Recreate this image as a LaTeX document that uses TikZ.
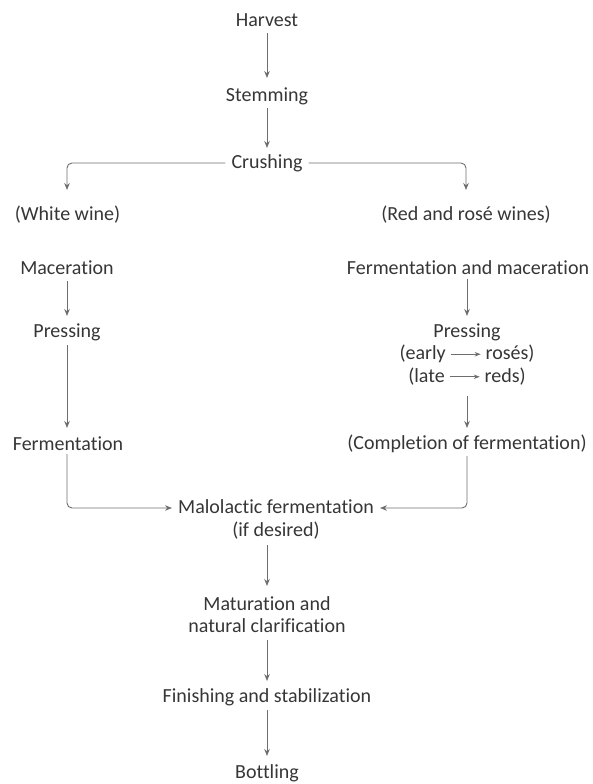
\documentclass[tikz,border=0pt]{standalone}
\usepackage{fontspec}
\setmainfont{Carlito}[Ligatures=NoCommon]
\usetikzlibrary{arrows.meta}
\definecolor{txt}{HTML}{363636}
\definecolor{ln}{HTML}{6E6E6E}
\newcommand{\inarrow}{\tikz[baseline=-0.6ex]\draw[ln,line width=0.8pt,-{Stealth[length=6pt,width=4.5pt]}] (0,0)--(30pt,0);}
\begin{document}
\begin{tikzpicture}[x=1pt,y=-1pt,
  lbl/.style={text=txt,font=\fontsize{20}{22.5}\selectfont,inner sep=1pt,align=center},
  conn/.style={draw=ln,line width=0.9pt,-{Stealth[length=7pt,width=5.5pt]},rounded corners=5pt}]
\useasboundingbox (0,0) rectangle (593,784);
\node[lbl] (harvest) at (267,20) {Harvest};
\node[lbl] (stem) at (267,96) {Stemming};
\node[lbl] (crush) at (267,163) {Crushing};
\node[lbl] (white) at (67.5,215) {(White wine)};
\node[lbl] (red) at (466,215) {(Red and rosé wines)};
\node[lbl] (macL) at (67,268) {Maceration};
\node[lbl] (fmR) at (468,268) {Fermentation and maceration};
\node[lbl] (pressL) at (67,332) {Pressing};
\node[lbl] (pressR) at (467,354.5) {Pressing\\(early \inarrow\ rosés)\\(late \inarrow\ reds)};
\node[lbl] (fermL) at (68,444) {Fermentation};
\node[lbl] (compR) at (467,444) {(Completion of fermentation)};
\node[lbl] (malo) at (276,519.5) {Malolactic fermentation\\(if desired)};
\node[lbl] (mat) at (267,614.5) {Maturation and\\natural clarification};
\node[lbl] (fin) at (267,697) {Finishing and stabilization};
\node[lbl] (bot) at (267,773) {Bottling};
\coordinate (mL) at ([xshift=-5pt]malo.west |- 0,508);
\coordinate (mR) at ([xshift=5pt]malo.east |- 0,508);
\draw[conn] (harvest.south |- 0,33) -- (stem.north |- 0,78);
\draw[conn] (stem.south |- 0,108) -- (crush.north |- 0,148);
\draw[conn] (crush.west) ++(-5,0) -- (67,163) -- (67,190);
\draw[conn] (crush.east) ++(5,0) -- (466,163) -- (466,190);
\draw[conn] (macL.south |- 0,281) -- (pressL.north |- 0,316);
\draw[conn] (pressL.south |- 0,345) -- (67,428);
\draw[conn] (fmR.south -| pressR.north) ++(0,3) -- (pressR.north |- 0,316);
\draw[conn] (pressR.south |- 0,396) -- (pressR.south |- 0,428);
\draw[conn] (fermL.south -| 67,0) ++(0,2) -- (67,508) -- (mL);
\draw[conn] (compR.south -| 467,0) ++(0,2) -- (467,508) -- (mR);
\draw[conn] (267,545) -- (mat.north |- 0,586);
\draw[conn] (mat.south |- 0,640) -- (fin.north |- 0,681);
\draw[conn] (fin.south |- 0,710) -- (bot.north |- 0,756);
\end{tikzpicture}
\end{document}
